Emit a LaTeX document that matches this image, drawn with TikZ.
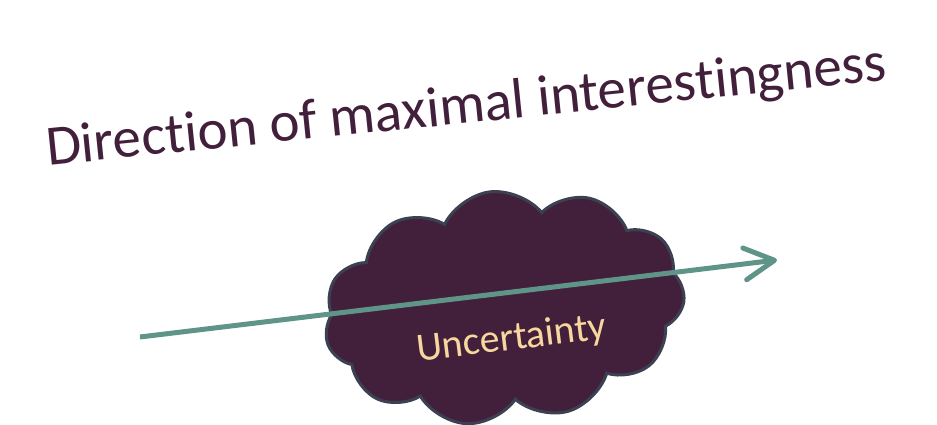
\documentclass[tikz,border=0pt]{standalone}
\usepackage{fontspec}
\setmainfont{Carlito}[Ligatures=NoCommon, RawFeature={-calt;-clig;-dlig;-rlig}]
\usepackage{xcolor}
\usetikzlibrary{arrows.meta,shapes.symbols,positioning}
\definecolor{plum}{HTML}{42203C}
\definecolor{cloudedge}{HTML}{3C4152}
\definecolor{sage}{HTML}{5F9488}
\definecolor{sand}{HTML}{F8D79E}
\tikzstyle{wolke}=[cloud, cloud puffs=11, cloud puff arc=115, aspect=1.6, fill=plum, draw=cloudedge, line width=3pt, minimum width=362pt, minimum height=232pt, inner sep=0pt]
\tikzstyle{pfeil}=[draw=sage, line width=5pt, -{Straight Barb[length=30pt,width=32pt,round]}]

\begin{document}
\begin{tikzpicture}[x=1pt, y=1pt]
	\useasboundingbox (0,0) rectangle (937,425);

	\node[anchor=base, rotate=5.8, text=plum, font=\fontsize{57}{60}\selectfont] (title) at (468,302) {Direction of maximal interestingness};

	\node[wolke, rotate=7] (cloud) at (504,118) {};

	\coordinate (start) at (140,88);
	\coordinate (tip) at (777,165);
	\draw[pfeil] (start) -- (tip);

	\node[anchor=base, rotate=7, text=sand, font=\fontsize{40}{44}\selectfont] (uncertainty) at (513,75) {Uncertainty};
\end{tikzpicture}
\end{document}
